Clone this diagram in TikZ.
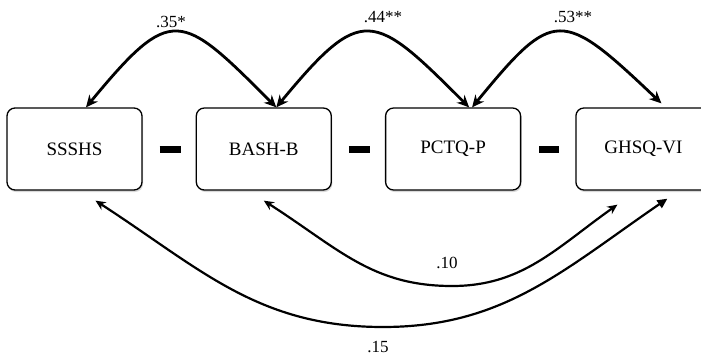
\documentclass[tikz,border=0pt]{standalone}
\usepackage{fontspec}
\setmainfont{Liberation Serif}
\usetikzlibrary{positioning,calc,arrows.meta,shadows}

\tikzset{
  measure/.style={draw, line width=1.3pt, rounded corners=8pt, fill=white,
    minimum width=135pt, minimum height=82pt,
    font=\fontsize{19}{22}\selectfont,
    drop shadow={shadow xshift=1pt, shadow yshift=-2pt, opacity=.25, fill=black!60}},
  bar/.style={line width=7pt},
  topcorr/.style={line width=2.8pt, {Stealth[length=12pt,width=11pt]}-{Stealth[length=12pt,width=11pt]}},
  lowcorr/.style={line width=2.2pt, {Stealth[length=10pt,width=9pt]}-{Stealth[length=10pt,width=9pt]}},
  coef/.style={font=\fontsize{17}{20}\selectfont, inner sep=0pt}
}

\begin{document}
\begin{tikzpicture}[x=1pt, y=-1pt]
\useasboundingbox (0,0) rectangle (701,356);

% the four measures
\node[measure] (ssshs) at (74.5,149) {SSSHS};
\node[measure, right=53pt of ssshs] (bashb) {BASH-B};
\node[measure, right=53pt of bashb] (pctqp) {PCTQ-P};
\node[measure, right=54pt of pctqp] (ghsq) {GHSQ-VI};

% bars between boxes
\draw[bar] ($(ssshs.east)+(17,0)$) -- ($(bashb.west)+(-15,0)$);
\draw[bar] ($(bashb.east)+(17,0)$) -- ($(pctqp.west)+(-15,0)$);
\draw[bar] ($(pctqp.east)+(18,0)$) -- ($(ghsq.west)+(-16,0)$);

% arrow ends
\coordinate (s1) at ($(ssshs.north)+(11.5,0)$);
\coordinate (b1) at ($(bashb.north)+(12.5,0)$);
\coordinate (p1) at ($(pctqp.north)+(16,0)$);
\coordinate (p2) at ($(pctqp.north)+(19,0)$);
\coordinate (g1) at ($(ghsq.north)+(18,-4)$);
\coordinate (s2) at ($(ssshs.south)+(21,10)$);
\coordinate (b2) at ($(bashb.south)+(0,10)$);
\coordinate (g2) at ($(ghsq.south)+(-26,14)$);
\coordinate (g3) at ($(ghsq.south)+(24,8)$);
% lowest points of the long arcs
\coordinate (m24) at (452,286);
\coordinate (m14) at (383,327);

% neighbouring correlations
\draw[topcorr] (s1) .. controls +(86,-104) and +(-96,-96) .. (b1);
\draw[topcorr] (b1) .. controls +(86,-104) and +(-96,-96) .. (p1);
\draw[topcorr] (p2) .. controls +(82,-100) and +(-100,-95) .. (g1);

% distant correlations
\draw[lowcorr] (b2) .. controls +(75,48) and +(-80,0) .. (m24)
  .. controls +(70,0) and +(-62,44) .. (g2);
\draw[lowcorr, {Stealth[length=10pt,width=9pt]}-{Triangle[length=10pt,width=9pt]}]
  (s2) .. controls +(105,68) and +(-125,0) .. (m14)
  .. controls +(120,0) and +(-105,72) .. (g3);

% coefficients
\node[coef] (r12) at (171,22) {.35*};
\node[coef] (r23) at (383,17) {.44**};
\node[coef] (r34) at (573,17) {.53**};
\node[coef] (r24) at (447,263) {.10};
\node[coef] (r14) at (378,347) {.15};
\end{tikzpicture}
\end{document}
